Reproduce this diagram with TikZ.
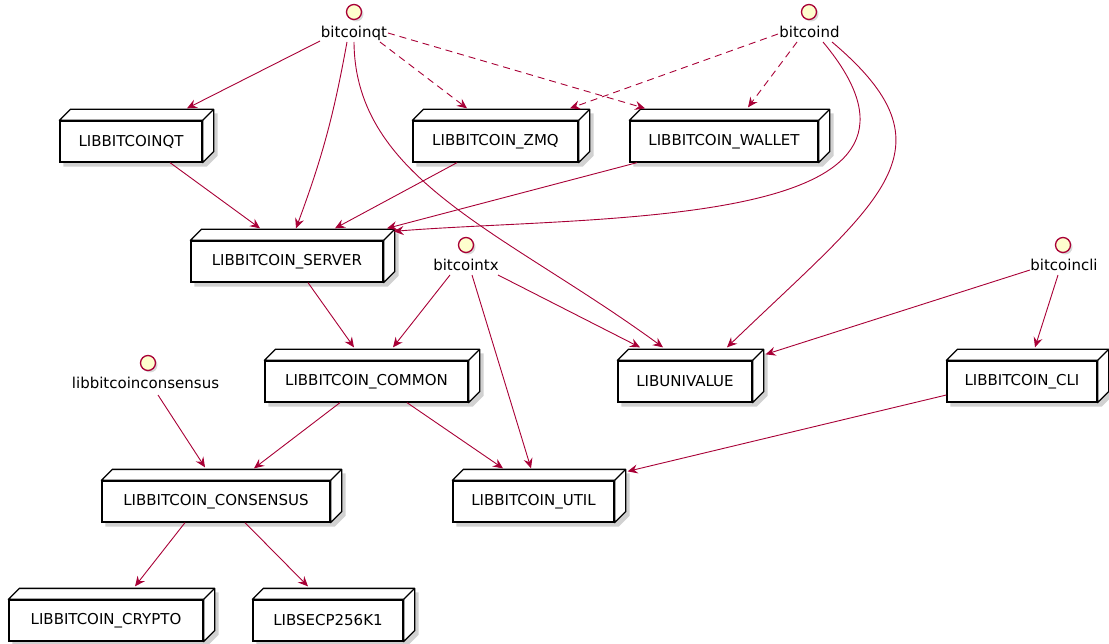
\documentclass[tikz,border=0pt]{standalone}
\usepackage{fontspec}
\setmainfont{DejaVu Sans}
\usepackage{tikz}
\usetikzlibrary{arrows.meta, positioning, shadows, backgrounds}
\definecolor{umlred}{HTML}{A80036}
\definecolor{umlyellow}{HTML}{FEFECE}
\tikzstyle{lib} = [rectangle, minimum height=41pt, inner sep=0pt, text centered, draw=black, line width=1.3pt, fill=white, font=\fontsize{15}{18}\selectfont]
\tikzstyle{libside} = [draw=black, line width=1.3pt, fill=white, line join=round]
\tikzstyle{libshadow} = [fill=black, opacity=0.18]
\tikzstyle{iface} = [circle, minimum size=15pt, inner sep=0pt, draw=umlred, line width=1.3pt, fill=umlyellow, drop shadow={shadow xshift=2pt, shadow yshift=-2pt, opacity=0.3}]
\tikzstyle{ifacelabel} = [inner sep=0pt, text height=11pt, text depth=3.5pt, font=\fontsize{15}{18}\selectfont]
\tikzstyle{arrow} = [umlred, line width=0.9pt, -{Stealth[length=10pt, width=9pt, inset=3.5pt]}]
\tikzstyle{dasharrow} = [arrow, dash pattern=on 7pt off 5pt]

\begin{document}
\begin{tikzpicture}[x=1pt, y=-1pt]
	\useasboundingbox (0,0) rectangle (1109,644);

	% libraries
	\node (qt) [lib, minimum width=142pt] at (131,141.5) {LIBBITCOINQT};
	\node (zmq) [lib, minimum width=165pt] at (495.5,141.5) {LIBBITCOIN\_ZMQ};
	\node (wallet) [lib, minimum width=188pt] at (724,141.5) {LIBBITCOIN\_WALLET};
	\node (server) [lib, minimum width=192pt] at (287,261.5) {LIBBITCOIN\_SERVER};
	\node (common) [lib, minimum width=203pt] at (366.5,381.5) {LIBBITCOIN\_COMMON};
	\node (univalue) [lib, minimum width=134pt] at (685,381.5) {LIBUNIVALUE};
	\node (cli) [lib, minimum width=150pt] at (1022,381.5) {LIBBITCOIN\_CLI};
	\node (consensus) [lib, minimum width=228pt] at (216,501.5) {LIBBITCOIN\_CONSENSUS};
	\node (util) [lib, minimum width=161pt] at (533.5,501.5) {LIBBITCOIN\_UTIL};
	\node (crypto) [lib, minimum width=194pt] at (106,620.5) {LIBBITCOIN\_CRYPTO};
	\node (secp) [lib, minimum width=150pt] at (328,620.5) {LIBSECP256K1};

	% 3d sides and shadows
	\foreach \n in {qt,zmq,wallet,server,common,univalue,cli,consensus,util,crypto,secp} {
		\begin{pgfonlayer}{background}
			\fill[libshadow] ([shift={(4,4)}]\n.south west) -- ([shift={(4,4)}]\n.north west) -- ([shift={(15,-7)}]\n.north west) -- ([shift={(15,-7)}]\n.north east) -- ([shift={(15,-7)}]\n.south east) -- ([shift={(4,4)}]\n.south east) -- cycle;
		\end{pgfonlayer}
		\draw[libside] (\n.north west) -- ++(11,-11) -- ([shift={(11,-11)}]\n.north east) -- ([shift={(11,-11)}]\n.south east) -- (\n.south east) -- (\n.north east) -- cycle;
		\draw[libside] (\n.north east) -- ++(11,-11);
	}

	% interfaces
	\node (bqI) [iface] at (354,12) {};
	\node (bq) [ifacelabel] at (354,33.5) {bitcoinqt};
	\node (bdI) [iface] at (809,12) {};
	\node (bd) [ifacelabel] at (809.5,33.5) {bitcoind};
	\node (bxI) [iface] at (466,245) {};
	\node (bx) [ifacelabel] at (466,266.5) {bitcointx};
	\node (bcliI) [iface] at (1063,245) {};
	\node (bcli) [ifacelabel] at (1064,266.5) {bitcoincli};
	\node (lcI) [iface] at (148,363) {};
	\node (lc) [ifacelabel] at (145.5,384.5) {libbitcoinconsensus};

	% bitcoinqt
	\draw [arrow] ([shift={(-34,7.5)}]bq.center) -- ([shift={(56,-12)}]qt.north);
	\draw [arrow] ([shift={(-7,8.5)}]bq.center) to[bend left=5] ([shift={(9,-12)}]server.north);
	\draw [arrow] ([shift={(0,8.5)}]bq.center) .. controls (355,180) and (505,232) .. ([shift={(-22,-13)}]univalue.north);
	\draw [dasharrow] ([shift={(26,8.5)}]bq.center) -- ([shift={(-28.5,-12)}]zmq.north);
	\draw [dasharrow] ([shift={(34,-0.5)}]bq.center) -- ([shift={(-79,-12)}]wallet.north);

	% bitcoind
	\draw [dasharrow] ([shift={(-31.5,0.5)}]bd.center) -- ([shift={(74.5,-12)}]zmq.north);
	\draw [dasharrow] ([shift={(-12.5,8.5)}]bd.center) -- ([shift={(24,-13)}]wallet.north);
	\draw [arrow] ([shift={(13.5,8.5)}]bd.center) .. controls (980,230) and (600,215) .. ([shift={(10,-9)}]server.north east);
	\draw [arrow] ([shift={(22.5,8.5)}]bd.center) .. controls (960,150) and (880,200) .. ([shift={(42,-13)}]univalue.north);

	% libraries into server
	\draw [arrow] ([shift={(39,0)}]qt.south) -- ([shift={(-27,-12)}]server.north);
	\draw [arrow] ([shift={(-38.5,0)}]zmq.south) -- ([shift={(48,-12)}]server.north);
	\draw [arrow] ([shift={(-87,0)}]wallet.south) -- ([shift={(100,-12)}]server.north);
	\draw [arrow] ([shift={(21,0)}]server.south) -- ([shift={(-12.5,-13)}]common.north);

	% bitcointx
	\draw [arrow] ([shift={(-16,8.5)}]bx.center) -- ([shift={(26.5,-13)}]common.north);
	\draw [arrow] ([shift={(6,8.5)}]bx.center) -- ([shift={(-2.5,-12)}]util.north);
	\draw [arrow] ([shift={(32,8.5)}]bx.center) -- ([shift={(-45,-13)}]univalue.north);

	% bitcoincli
	\draw [arrow] ([shift={(-34,3.5)}]bcli.center) -- ([shift={(13,-6)}]univalue.north east);
	\draw [arrow] ([shift={(-6,8.5)}]bcli.center) -- ([shift={(13,-13)}]cli.north);
	\draw [arrow] ([shift={(0,13.5)}]cli.west) -- ([shift={(13,-9)}]util.north east);

	% lower part
	\draw [arrow] ([shift={(-26.5,0)}]common.south) -- ([shift={(38,-12)}]consensus.north);
	\draw [arrow] ([shift={(40.5,0)}]common.south) -- ([shift={(-30.5,-12)}]util.north);
	\draw [arrow] ([shift={(12.5,10.5)}]lc.center) -- ([shift={(-11,-13)}]consensus.north);
	\draw [arrow] ([shift={(-31,0)}]consensus.south) -- ([shift={(29,-13)}]crypto.north);
	\draw [arrow] ([shift={(29,0)}]consensus.south) -- ([shift={(-20,-13)}]secp.north);

\end{tikzpicture}
\end{document}
